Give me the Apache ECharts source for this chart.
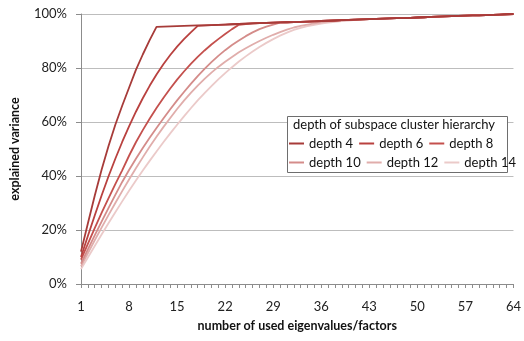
<!DOCTYPE html>
<html>
<head>
<meta charset="utf-8">
<script src="https://cdn.jsdelivr.net/npm/echarts@6/dist/echarts.min.js"></script>
<style>
  html, body { margin: 0; padding: 0; background: #fff; }
  #chart { width: 524px; height: 341px; }
</style>
</head>
<body>
<div id="chart"></div>
<script>
// number of used eigenvalues/factors: 1 .. 64
const factors = [];
for (let i = 1; i <= 64; i++) factors.push(String(i));

const seriesNames = ['depth 4', 'depth 6', 'depth 8', 'depth 10', 'depth 12', 'depth 14'];
const seriesColors = ['#a73b39', '#b9413f', '#c4504d', '#d48c8a', '#e0adab', '#ebcac9'];

// explained variance (%) per number of factors
const depth4 = [12, 22.4, 32.7, 42.3, 51, 59, 66, 72.7, 79.3, 85, 90.3, 95.2,
  95.3, 95.4, 95.5, 95.6, 95.7, 95.8, 95.8, 95.9, 96.0, 96.1, 96.2, 96.3,
  96.4, 96.5, 96.6, 96.7, 96.8, 96.9, 96.95, 97.0, 97.1, 97.2, 97.3, 97.4,
  97.5, 97.6, 97.7, 97.8, 97.9, 98.0, 98.1, 98.2, 98.3, 98.4, 98.5, 98.5,
  98.6, 98.7, 98.8, 98.9, 99.0, 99.1, 99.2, 99.3, 99.4, 99.5, 99.5, 99.6,
  99.7, 99.8, 99.9, 100];
const depth6 = [10, 17.8, 25.4, 32.8, 39.8, 46.4, 52.6, 58.4, 63.8, 68.8, 73.4, 77.6,
  81.4, 84.8, 87.9, 90.7, 93.2, 95.6, 95.8, 95.9, 96.0, 96.1, 96.2, 96.3,
  96.4, 96.5, 96.6, 96.7, 96.8, 96.9, 96.95, 97.0, 97.1, 97.2, 97.3, 97.4,
  97.5, 97.6, 97.7, 97.8, 97.9, 98.0, 98.1, 98.2, 98.3, 98.4, 98.5, 98.5,
  98.6, 98.7, 98.8, 98.9, 99.0, 99.1, 99.2, 99.3, 99.4, 99.5, 99.5, 99.6,
  99.7, 99.8, 99.9, 100];
const depth8 = [9, 14.9, 20.7, 26.3, 31.7, 37, 42.1, 47.5, 52.5, 57, 61.2, 65.2,
  68.9, 72.4, 75.7, 78.7, 81.5, 84.1, 86.5, 88.7, 90.7, 92.6, 94.4, 96.0,
  96.3, 96.5, 96.6, 96.7, 96.8, 96.9, 96.95, 97.0, 97.1, 97.2, 97.3, 97.4,
  97.5, 97.6, 97.7, 97.8, 97.9, 98.0, 98.1, 98.2, 98.3, 98.4, 98.5, 98.5,
  98.6, 98.7, 98.8, 98.9, 99.0, 99.1, 99.2, 99.3, 99.4, 99.5, 99.5, 99.6,
  99.7, 99.8, 99.9, 100];
const depth10 = [7.5, 12.8, 18, 23.1, 28.1, 33, 37.8, 42.2, 46.4, 50.4, 54.2, 57.8,
  61.3, 64.7, 68, 71.1, 74.1, 77, 79.7, 82.2, 84.5, 86.6, 88.5, 90.2,
  91.8, 93.2, 94.4, 95.3, 96.1, 96.8, 96.95, 97.0, 97.1, 97.2, 97.3, 97.4,
  97.5, 97.6, 97.7, 97.8, 97.9, 98.0, 98.1, 98.2, 98.3, 98.4, 98.5, 98.5,
  98.6, 98.7, 98.8, 98.9, 99.0, 99.1, 99.2, 99.3, 99.4, 99.5, 99.5, 99.6,
  99.7, 99.8, 99.9, 100];
const depth12 = [6.5, 11.4, 16.2, 20.9, 25.5, 30, 34.4, 38.7, 42.9, 46.9, 50.8, 54.5,
  58.1, 61.5, 64.8, 67.9, 70.8, 73.5, 76, 78.3, 80.4, 82.3, 84.1, 85.8,
  87.3, 88.7, 90, 91.2, 92.3, 93.3, 94.2, 95.0, 95.6, 96.1, 96.5, 96.9,
  97.2, 97.4, 97.6, 97.8, 97.9, 98.0, 98.1, 98.2, 98.3, 98.4, 98.5, 98.5,
  98.6, 98.7, 98.8, 98.9, 99.0, 99.1, 99.2, 99.3, 99.4, 99.5, 99.5, 99.6,
  99.7, 99.8, 99.9, 100];
const depth14 = [5.5, 9.8, 14.1, 18.3, 22.5, 26.6, 30.6, 34.5, 38.3, 42, 45.6, 49.1,
  52.5, 55.8, 59, 62.1, 65.1, 68, 70.7, 73.3, 75.8, 78.1, 80.3, 82.4,
  84.3, 86.1, 87.8, 89.3, 90.7, 92.0, 93.1, 94.1, 94.9, 95.5, 96.0, 96.4,
  96.8, 97.1, 97.4, 97.6, 97.8, 98.0, 98.1, 98.2, 98.3, 98.4, 98.5, 98.5,
  98.6, 98.7, 98.8, 98.9, 99.0, 99.1, 99.2, 99.3, 99.4, 99.5, 99.5, 99.6,
  99.7, 99.8, 99.9, 100];

const seriesValues = [depth4, depth6, depth8, depth10, depth12, depth14];

const legendTitle = 'depth of subspace cluster hierarchy';
const xAxisTitle = 'number of used eigenvalues/factors';
const yAxisTitle = 'explained variance';

const FONT = 'Lato, "Open Sans", sans-serif';
const chart = echarts.init(document.getElementById('chart'), null, { renderer: 'canvas' });

// legend rows: three fixed-width entries per row inside the framed box
const legendBase = {
  orient: 'horizontal',
  icon: 'rect',
  itemWidth: 15,
  itemHeight: 2,
  itemGap: 6,
  padding: 0,
  selectedMode: false,
  z: 6,
  textStyle: { fontFamily: FONT, fontSize: 13, color: '#111', width: 49 }
};

chart.setOption({
  animation: false,
  backgroundColor: '#ffffff',
  grid: { left: 75, right: 8, top: 14, bottom: 57, containLabel: false },
  xAxis: {
    type: 'category',
    data: factors,
    boundaryGap: false,
    name: xAxisTitle,
    nameLocation: 'middle',
    nameGap: 35,
    nameTextStyle: { fontFamily: FONT, fontSize: 12.5, fontWeight: 'bold', color: '#111' },
    axisLine: { lineStyle: { color: '#8c8c8c', width: 1 } },
    axisTick: { show: true, interval: 0, length: 4, lineStyle: { color: '#8c8c8c' } },
    axisLabel: { interval: 6, margin: 16, fontFamily: FONT, fontSize: 13, color: '#222' },
    splitLine: { show: false }
  },
  yAxis: {
    type: 'value',
    min: 0,
    max: 100,
    interval: 20,
    name: yAxisTitle,
    nameLocation: 'middle',
    nameGap: 60,
    nameRotate: 90,
    nameTextStyle: { fontFamily: FONT, fontSize: 12.5, fontWeight: 'bold', color: '#111' },
    axisLine: { show: true, lineStyle: { color: '#8c8c8c', width: 1 } },
    axisTick: { show: true, length: 5, lineStyle: { color: '#8c8c8c' } },
    axisLabel: { formatter: '{value}%', margin: 14, fontFamily: FONT, fontSize: 13, color: '#222' },
    splitLine: { show: true, lineStyle: { color: '#bdbdbd', width: 1 } }
  },
  graphic: [
    {
      type: 'rect',
      z: 5,
      shape: { x: 287.5, y: 116.5, width: 220, height: 56 },
      style: { fill: '#ffffff', stroke: '#6e6e6e', lineWidth: 1 }
    },
    {
      type: 'text',
      z: 6,
      left: 293,
      top: 118,
      style: { text: legendTitle, font: '13px ' + FONT, fill: '#111' }
    }
  ],
  legend: [
    Object.assign({}, legendBase, { left: 289, top: 137, data: seriesNames.slice(0, 3) }),
    Object.assign({}, legendBase, { left: 289, top: 156, data: seriesNames.slice(3, 6) })
  ],
  series: seriesNames.map((name, i) => ({
    name: name,
    type: 'line',
    data: seriesValues[i],
    symbol: 'none',
    smooth: false,
    z: 2 + (5 - i),
    lineStyle: { color: seriesColors[i], width: 1.8 },
    itemStyle: { color: seriesColors[i] }
  }))
});
</script>
</body>
</html>
